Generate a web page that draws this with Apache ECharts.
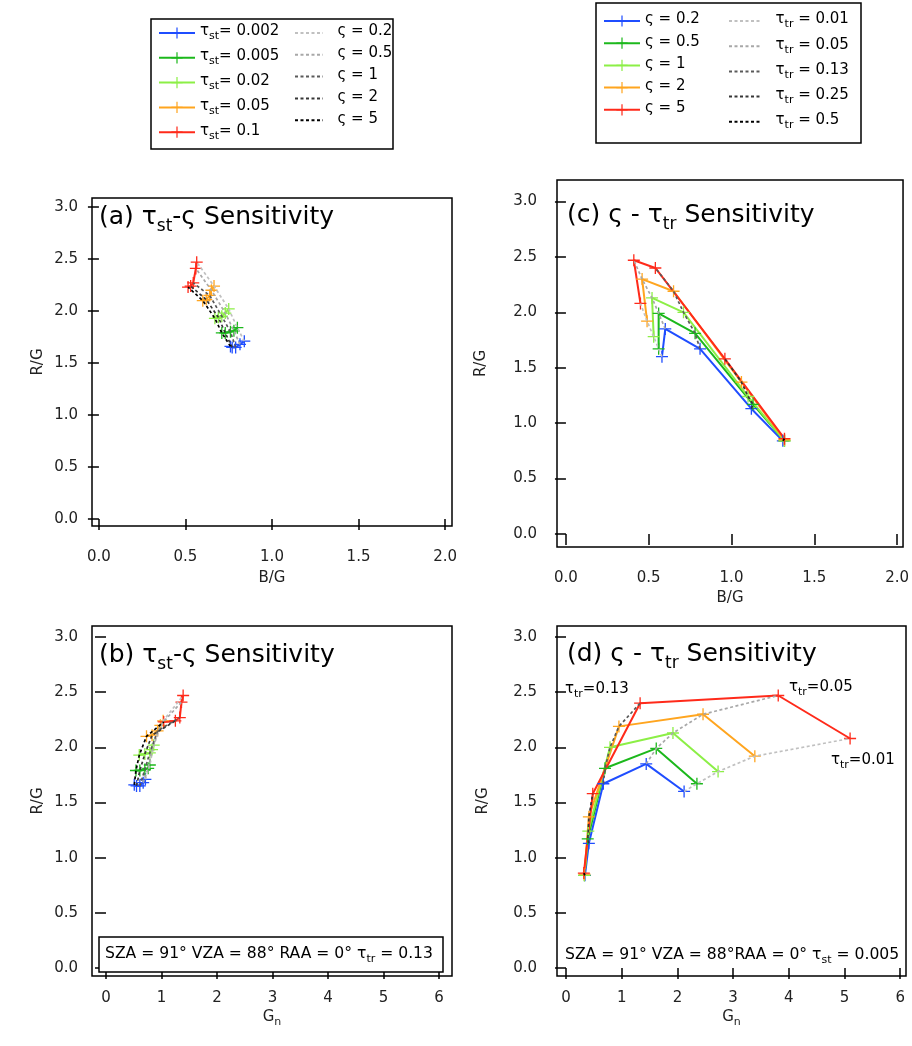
<!DOCTYPE html>
<html><head><meta charset="utf-8">
<script src="https://cdn.jsdelivr.net/npm/echarts@6/dist/echarts.min.js"></script>
<style>html,body{margin:0;padding:0;background:#fff}#c{width:912px;height:1046px}</style>
</head><body><div id="c"></div>
<script>
// ---------- labels ----------
const tauStLabels = ['0.002', '0.005', '0.02', '0.05', '0.1'];
const sigmaLabels = ['0.2', '0.5', '1', '2', '5'];
const tauTrLabels = ['0.01', '0.05', '0.13', '0.25', '0.5'];
const xTicksBG = [0, 0.5, 1, 1.5, 2];
const xTicksGn = [0, 1, 2, 3, 4, 5, 6];
const yTicksRG = [0, 0.5, 1, 1.5, 2, 2.5, 3];

// ---------- panels (a)/(b): rows = tau_st, columns = sigma ----------
const abRG = [
  [1.71, 1.68, 1.65, 1.65, 1.66],
  [1.84, 1.81, 1.80, 1.79, 1.79],
  [2.02, 1.98, 1.95, 1.94, 1.93],
  [2.24, 2.20, 2.15, 2.11, 2.10],
  [2.47, 2.41, 2.27, 2.24, 2.23]
];
const aBG = [
  [0.84, 0.815, 0.79, 0.77, 0.76],
  [0.80, 0.78, 0.76, 0.73, 0.71],
  [0.75, 0.73, 0.71, 0.69, 0.67],
  [0.665, 0.65, 0.64, 0.62, 0.60],
  [0.565, 0.56, 0.545, 0.53, 0.515]
];
const bGn = [
  [0.71, 0.67, 0.61, 0.55, 0.51],
  [0.79, 0.76, 0.70, 0.61, 0.54],
  [0.86, 0.83, 0.79, 0.70, 0.60],
  [1.03, 0.98, 0.93, 0.83, 0.73],
  [1.39, 1.36, 1.33, 1.25, 1.04]
];

// ---------- panels (c)/(d): rows = sigma, columns = tau_tr ----------
const cdRG = [
  [1.60, 1.85, 1.67, 1.13, 0.84],
  [1.67, 1.99, 1.81, 1.17, 0.84],
  [1.78, 2.13, 2.00, 1.24, 0.84],
  [1.92, 2.30, 2.19, 1.37, 0.85],
  [2.08, 2.47, 2.40, 1.58, 0.86]
];
const cBG = [
  [0.58, 0.60, 0.81, 1.12, 1.31],
  [0.56, 0.56, 0.78, 1.13, 1.32],
  [0.53, 0.52, 0.71, 1.10, 1.32],
  [0.49, 0.46, 0.65, 1.06, 1.32],
  [0.45, 0.41, 0.54, 0.96, 1.32]
];
const dGn = [
  [2.12, 1.44, 0.67, 0.41, 0.34],
  [2.35, 1.62, 0.70, 0.39, 0.33],
  [2.73, 1.92, 0.79, 0.40, 0.33],
  [3.39, 2.46, 0.95, 0.41, 0.33],
  [5.10, 3.81, 1.33, 0.48, 0.32]
];

// ---------- styles ----------
const solidColors = ['#1f4dff', '#1cb81c', '#8cef46', '#ffa51f', '#ff2a1a'];
const dashColors = ['#c0c0c0', '#a8a8a8', '#5a5a5a', '#363636', '#000000'];
const FONT = 'DejaVu Sans';
const PLUS = 'path://M5.35,0H6.65V5.35H12V6.65H6.65V12H5.35V6.65H0V5.35H5.35Z';

const chart = echarts.init(document.getElementById('c'), null, {renderer: 'canvas'});

function richSet(fs, sub, pad) {
  return {
    m: {fontSize: fs, fontFamily: FONT, fontWeight: 'normal', color: '#000', verticalAlign: 'bottom', padding: [0, 0, pad, 0]},
    s: {fontSize: sub, fontFamily: FONT, fontWeight: 'normal', color: '#000', verticalAlign: 'bottom'}
  };
}

// names
const nA = tauStLabels.map(v => 'tst_' + v);
const nAd = sigmaLabels.map(v => 'sga_' + v);
const nC = sigmaLabels.map(v => 'sgc_' + v);
const nCd = tauTrLabels.map(v => 'ttr_' + v);

const series = [];
function solid(name, data, color, idx) {
  return {type: 'line', name, data, xAxisIndex: idx, yAxisIndex: idx, symbol: PLUS, symbolSize: 12,
    showSymbol: true, lineStyle: {color, width: 2}, itemStyle: {color, borderWidth: 0}, z: 2,
    animation: false, silent: true, emphasis: {disabled: true}};
}
function dashed(name, data, color, idx) {
  return {type: 'line', name, data, xAxisIndex: idx, yAxisIndex: idx, symbol: 'none',
    lineStyle: {color, width: 1.7, type: [3, 2.5]}, itemStyle: {color}, z: 3,
    animation: false, silent: true, emphasis: {disabled: true}};
}
// (a) idx 0, (b) idx 1
[[aBG, 0], [bGn, 1]].forEach(([X, idx]) => {
  for (let i = 0; i < 5; i++) {
    series.push(solid(nA[i], X[i].map((x, k) => [x, abRG[i][k]]), solidColors[i], idx));
  }
  for (let k = 0; k < 5; k++) {
    series.push(dashed(nAd[k], X.map((row, i) => [row[k], abRG[i][k]]), dashColors[k], idx));
  }
});
// (c) idx 2, (d) idx 3
[[cBG, 2], [dGn, 3]].forEach(([X, idx]) => {
  for (let i = 0; i < 5; i++) {
    series.push(solid(nC[i], X[i].map((x, j) => [x, cdRG[i][j]]), solidColors[i], idx));
  }
  for (let j = 0; j < 5; j++) {
    series.push(dashed(nCd[j], X.map((row, i) => [row[j], cdRG[i][j]]), dashColors[j], idx));
  }
});

const grids = [
  {left: 92, top: 198, width: 360, height: 328},   // (a)
  {left: 92, top: 626, width: 360, height: 350},   // (b)
  {left: 557, top: 180, width: 349, height: 367},  // (c)
  {left: 557, top: 626, width: 349, height: 350}   // (d)
].map(g => Object.assign(g, {show: true, borderColor: '#000', borderWidth: 1.5, backgroundColor: 'transparent'}));

const tickStyle = {show: true, length: 11, lineStyle: {color: '#000', width: 1.5}};
const labelStyle = {color: '#222', fontFamily: FONT, fontSize: 15};

function xAxis(idx, min, max, ticks, name, dec, gap, margin) {
  return {type: 'value', gridIndex: idx, min, max, splitLine: {show: false},
    axisLine: {show: false},
    axisTick: Object.assign({customValues: ticks}, tickStyle),
    axisLabel: Object.assign({customValues: ticks, margin, formatter: v => v.toFixed(dec)}, labelStyle),
    name, nameLocation: 'middle', nameGap: gap,
    nameTextStyle: {color: '#222', fontFamily: FONT, fontSize: 15,
      rich: {a: {fontSize: 15, fontFamily: FONT, color: '#222', verticalAlign: 'bottom', padding: [0, 0, 3, 0]},
             b: {fontSize: 11, fontFamily: FONT, color: '#222', verticalAlign: 'bottom'}}}};
}
function yAxis(idx, min, max, margin, gap) {
  return {type: 'value', gridIndex: idx, min, max, splitLine: {show: false},
    axisLine: {show: false},
    axisTick: Object.assign({customValues: yTicksRG}, tickStyle),
    axisLabel: Object.assign({customValues: yTicksRG, margin, formatter: v => v.toFixed(1)}, labelStyle),
    name: 'R/G', nameLocation: 'middle', nameGap: gap, nameRotate: 90,
    nameTextStyle: {color: '#222', fontFamily: FONT, fontSize: 15}};
}

const xAxes = [
  xAxis(0, -0.04, 2.04, xTicksBG, 'B/G', 1, 45, 24),
  xAxis(1, -0.252, 6.234, xTicksGn, '{a|G}{b|n}', 0, 34, 15),
  xAxis(2, -0.054, 2.036, xTicksBG, 'B/G', 1, 44, 24),
  xAxis(3, -0.162, 6.104, xTicksGn, '{a|G}{b|n}', 0, 34, 15)
];
const yAxes = [
  yAxis(0, -0.067, 3.087, 14, 46),
  yAxis(1, -0.073, 3.10, 14, 46),
  yAxis(2, -0.118, 3.194, 20, 68),
  yAxis(3, -0.073, 3.10, 20, 66)
];

// ---------- legends ----------
const LR = richSet(15, 11, 3);
function legend(data, left, top, itemWidth, gap, fmt, hideSymbol) {
  const l = {orient: 'vertical', left, top, data, itemWidth, itemHeight: 14, itemGap: gap,
    selectedMode: false, padding: 0,
    textStyle: {fontFamily: FONT, fontSize: 15, color: '#000', rich: LR}, formatter: fmt};
  if (hideSymbol) l.itemStyle = {opacity: 0};
  return l;
}
const legends = [
  legend(nA, 158, 24, 36, 6.8, n => '{m|τ}{s|st}{m|= ' + n.slice(4) + '}', false),
  legend(nAd, 294, 24, 28, 6.8, n => '{m|  ς = ' + n.slice(4) + '}', true),
  legend(nC, 603, 12, 36, 7.2, n => '{m|ς = ' + n.slice(4) + '}', false),
  legend(nCd, 728, 12, 32, 7.2, n => '{m|  τ}{s|tr}{m| = ' + n.slice(4) + '}', true)
];

// ---------- titles ----------
const TR = richSet(25, 17, 5);
function title(text, left, top) {
  return {text, left, top, padding: 0, textStyle: {fontWeight: 'normal', rich: TR}};
}
const titles = [
  title('{m|(a) τ}{s|st}{m|-ς Sensitivity}', 99, 205),
  title('{m|(b) τ}{s|st}{m|-ς Sensitivity}', 99, 643),
  title('{m|(c) ς - τ}{s|tr}{m| Sensitivity}', 567, 203),
  title('{m|(d) ς - τ}{s|tr}{m| Sensitivity}', 567, 642)
];

// ---------- graphics: legend boxes, annotations ----------
const AR = richSet(15, 11, 3);
const AR2 = richSet(15.6, 11, 3);
function txt(text, x, y, rich) {
  return {type: 'text', x, y, silent: true, style: {text, rich: rich || AR, fill: '#000', font: '15px "DejaVu Sans"'}};
}
const graphics = [
  {type: 'rect', shape: {x: 151, y: 19, width: 242, height: 130}, style: {fill: 'none', stroke: '#000', lineWidth: 1.5}, silent: true},
  {type: 'rect', shape: {x: 596, y: 3, width: 265, height: 140}, style: {fill: 'none', stroke: '#000', lineWidth: 1.5}, silent: true},
  {type: 'rect', shape: {x: 99, y: 937, width: 344, height: 35}, style: {fill: '#fff', stroke: '#000', lineWidth: 1.5}, silent: true, z: 10},
  txt('{m|SZA = 91° VZA = 88° RAA = 0° τ}{s|tr}{m| = 0.13}', 105, 946, AR2),
  txt('{m|SZA = 91° VZA = 88°RAA = 0° τ}{s|st}{m| = 0.005}', 565, 947, AR2),
  txt('{m|τ}{s|tr}{m|=0.13}', 565, 682),
  txt('{m|τ}{s|tr}{m|=0.05}', 789, 680),
  txt('{m|τ}{s|tr}{m|=0.01}', 831, 753)
].map(g => { if (g.type === 'text') g.z = 11; return g; });

chart.setOption({
  animation: false,
  backgroundColor: '#fff',
  title: titles,
  legend: legends,
  grid: grids,
  xAxis: xAxes,
  yAxis: yAxes,
  series,
  graphic: graphics
});
</script>
</body></html>
